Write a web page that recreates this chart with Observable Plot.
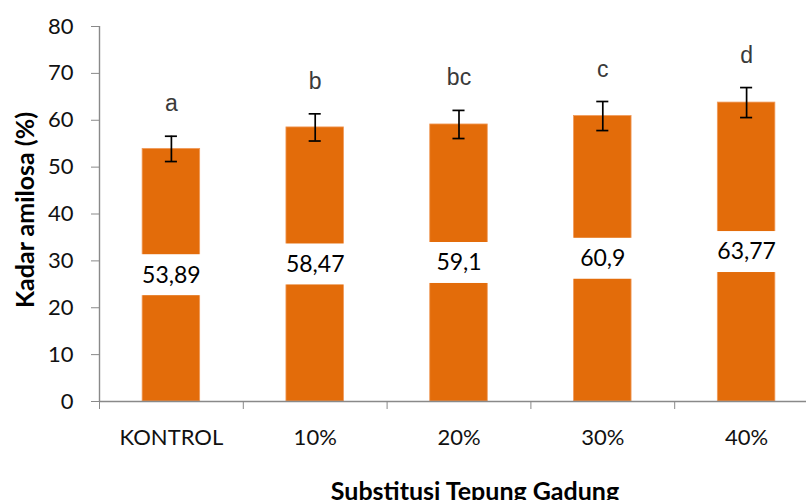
<!DOCTYPE html>
<html>
<head>
<meta charset="utf-8">
<script src="https://cdn.jsdelivr.net/npm/d3@7"></script>
<script src="https://cdn.jsdelivr.net/npm/@observablehq/plot@0.6"></script>
<style>
  body { margin: 0; background: #fff; }
  #chart { width: 806px; height: 500px; overflow: hidden; background: #fff; }
</style>
</head>
<body>
<div id="chart"></div>
<script>
// Amylose content by level of gadung flour substitution
const categories = ["KONTROL", "10%", "20%", "30%", "40%"];
const amylose = [53.89, 58.47, 59.1, 60.9, 63.77];
const sd = [2.7, 2.9, 3.0, 3.1, 3.2];
const groups = ["a", "b", "bc", "c", "d"];
const yTicks = [0, 10, 20, 30, 40, 50, 60, 70, 80];

const rows = categories.map((c, i) => ({
  i, c, v: amylose[i], e: sd[i], g: groups[i],
  label: String(amylose[i]).replace(".", ",")
}));

const orange = "#E36C0A";
const axisGray = "#898989";
const boxHalf = 4.37; // half height of the white label box, in % units

const chart = Plot.plot({
  width: 818,
  height: 500,
  marginLeft: 99,
  marginRight: 0,
  marginTop: 26,
  marginBottom: 99,
  x: { domain: [0, categories.length] },
  y: { domain: [0, 80] },
  style: { fontFamily: "Lato", background: "white", color: "#111", maxWidth: "none" },
  marks: [
    // bars
    Plot.rect(rows, {
      x1: d => d.i + 0.3, x2: d => d.i + 0.7, y1: 0, y2: "v",
      fill: orange, stroke: "#F09A5A", strokeWidth: 0.8
    }),
    // white box behind each value label
    Plot.rect(rows, {
      x1: d => d.i + 0.28, x2: d => d.i + 0.72,
      y1: d => d.v / 2 - boxHalf, y2: d => d.v / 2 + boxHalf,
      fill: "white"
    }),
    Plot.text(rows, {
      x: d => d.i + 0.5, y: d => d.v / 2, text: "label",
      fontSize: 23, fill: "#000"
    }),
    // error bars
    Plot.ruleX(rows, {
      x: d => d.i + 0.5, y1: d => d.v - d.e, y2: d => d.v + d.e,
      stroke: "#000", strokeWidth: 1.7
    }),
    Plot.ruleY(rows, {
      y: d => d.v + d.e, x1: d => d.i + 0.458, x2: d => d.i + 0.542,
      stroke: "#000", strokeWidth: 1.7
    }),
    Plot.ruleY(rows, {
      y: d => d.v - d.e, x1: d => d.i + 0.458, x2: d => d.i + 0.542,
      stroke: "#000", strokeWidth: 1.7
    }),
    // significance letters
    Plot.text(rows, {
      x: d => d.i + 0.5, y: d => d.v + d.e, text: "g",
      lineAnchor: "bottom", dy: -25,
      fontSize: 23, fontFamily: "Liberation Sans", fill: "#3a3a3a"
    }),
    // axis lines
    Plot.ruleX([0], { y1: 0, y2: 80, stroke: axisGray, strokeWidth: 1.4 }),
    Plot.ruleY([0], { stroke: axisGray, strokeWidth: 1.4 }),
    Plot.axisY({
      ticks: yTicks, tickSize: 8, tickPadding: 18, fontSize: 22,
      stroke: axisGray, fill: "#111", label: null
    }),
    Plot.axisX({
      ticks: categories.map((c, i) => i).concat(categories.length),
      tickSize: 8, tickFormat: () => "", stroke: axisGray, label: null
    }),
    Plot.axisX({
      ticks: categories.map((c, i) => i + 0.5),
      tickSize: 0, tickPadding: 28, fontSize: 22, fill: "#111",
      tickFormat: t => categories[Math.floor(t)], label: null
    }),
    // axis titles
    Plot.text(["Kadar amilosa (%)"], {
      frameAnchor: "left", textAnchor: "middle", rotate: -90, dx: -74, dy: -4,
      fontSize: 25, fontWeight: "bold", fill: "#000"
    }),
    Plot.text(["Substitusi Tepung Gadung"], {
      frameAnchor: "bottom", lineAnchor: "bottom", dx: 16, dy: 98,
      fontSize: 25, fontWeight: "bold", fill: "#000"
    })
  ]
});

document.getElementById("chart").appendChild(chart);
</script>
</body>
</html>
